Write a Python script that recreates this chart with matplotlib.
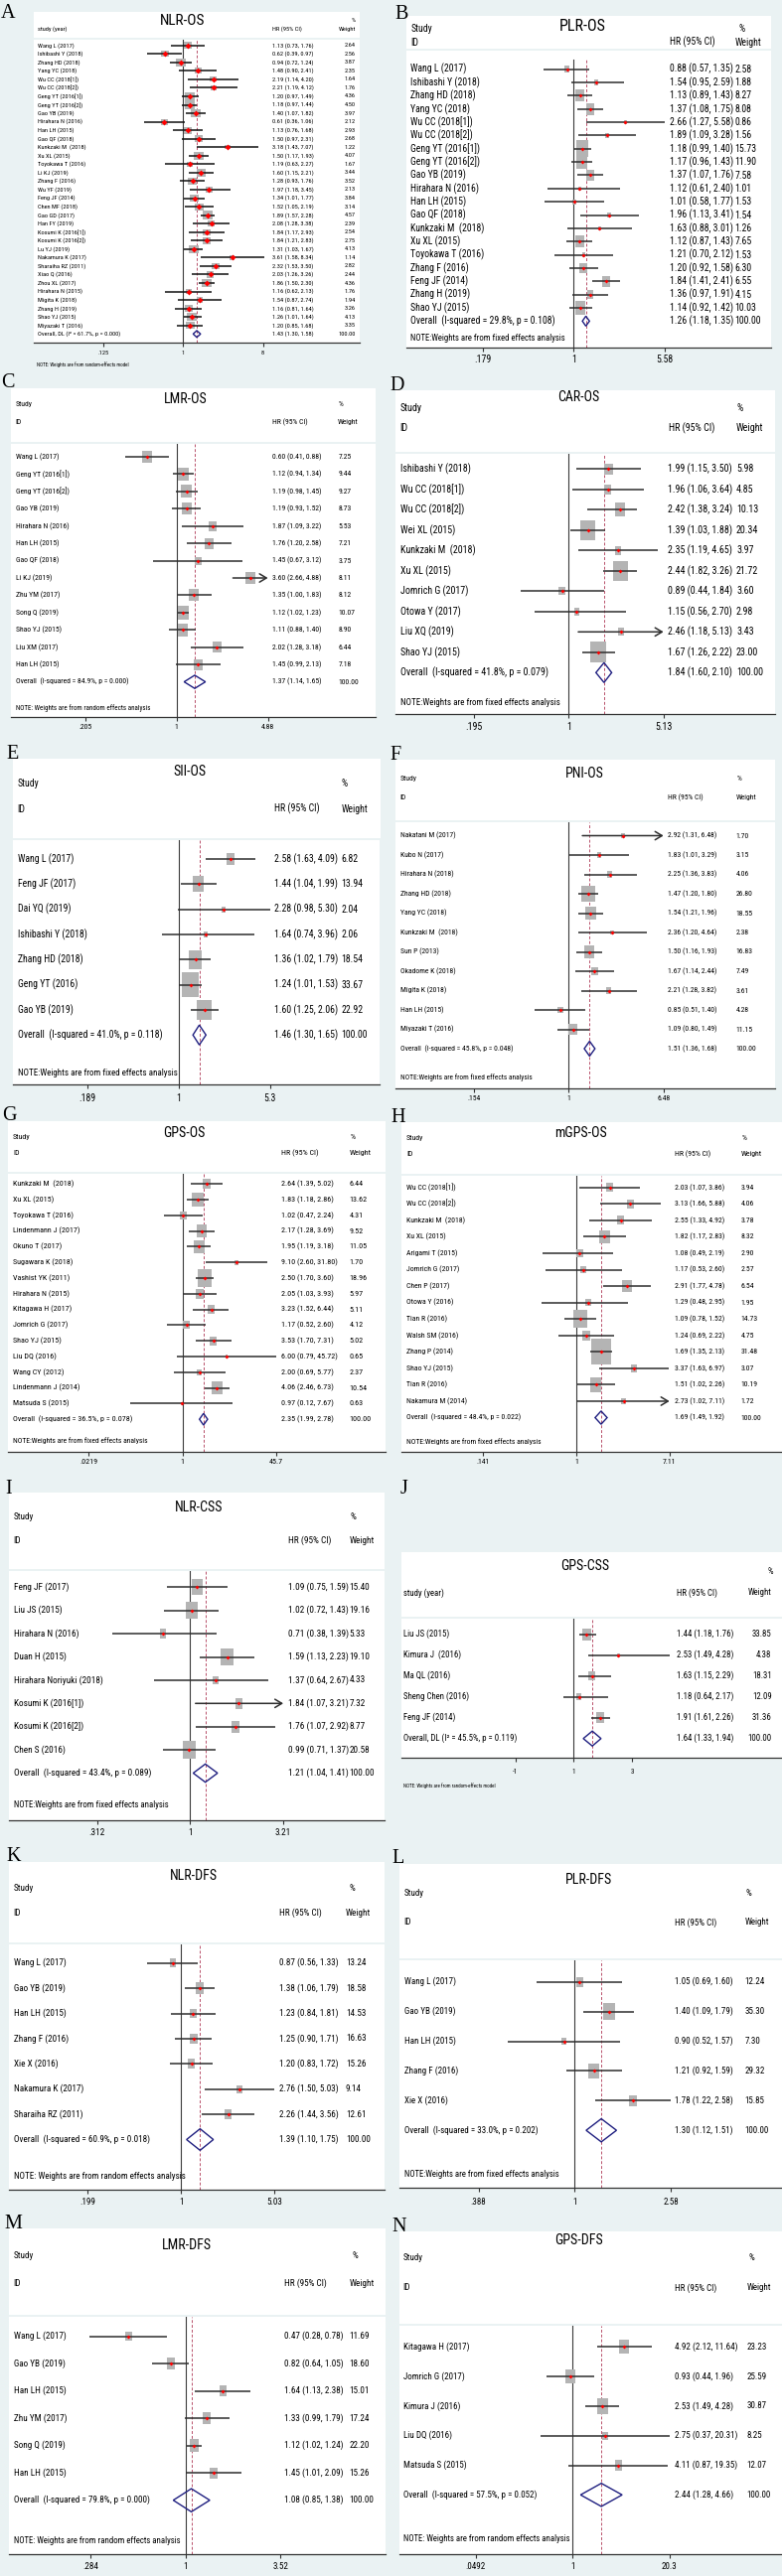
import numpy as np
import matplotlib
matplotlib.use('Agg')
import matplotlib.pyplot as plt
from matplotlib import font_manager as fm
from matplotlib.patches import Rectangle, Polygon
from matplotlib.path import Path
from matplotlib import transforms

W, H = 787, 2594
BG = '#eaf2f3'
SERIF = ['Liberation Serif', 'DejaVu Serif']

# the Stata text is a narrow sans; use a condensed family if one is installed,
# otherwise shrink regular Liberation Sans so the widths still match
NARROW = None
for fam in ['Liberation Sans Narrow', 'Roboto Condensed', 'Noto Sans Condensed', 'Open Sans Condensed',
            'DejaVu Sans Condensed']:
    try:
        fm.findfont(fm.FontProperties(family=fam), fallback_to_default=False)
        NARROW = fam
        break
    except ValueError:
        pass
if NARROW:
    SANS = [NARROW, 'DejaVu Sans']
    FSCALE = 1.0
else:
    SANS = ['Liberation Sans', 'DejaVu Sans']
    FSCALE = 0.8

NOTE_FIXED = 'NOTE:Weights are from fixed effects analysis'
NOTE_RANDOM = 'NOTE: Weights are from random effects analysis'
NOTE_MODEL = 'NOTE: Weights are from random-effects model'

# ---------------- data ----------------
# A  NLR-OS
a_names = ['Wang L (2017)', 'Ishibashi Y (2018)', 'Zhang HD (2018)', 'Yang YC (2018)', 'Wu CC (2018[1])',
           'Wu CC (2018[2])', 'Geng YT (2016[1])', 'Geng YT (2016[2])', 'Gao YB (2019)', 'Hirahara N (2016)',
           'Han LH (2015)', 'Gao QF (2018)', 'Kunkzaki M  (2018)', 'Xu XL (2015)', 'Toyokawa T (2016)',
           'Li KJ (2019)', 'Zhang F (2016)', 'Wu YF (2019)', 'Feng JF (2014)', 'Chen MF (2018)',
           'Gao GD (2017)', 'Han FY (2019)', 'Kosumi K (2016[1])', 'Kosumi K (2016[2])', 'Lu YJ (2019)',
           'Nakamura K (2017)', 'Sharaiha RZ (2011)', 'Xiao Q (2016)', 'Zhou XL (2017)', 'Hirahara N (2015)',
           'Migita K (2018)', 'Zhang H (2019)', 'Shao YJ (2015)', 'Miyazaki T (2016)']
a_hr = [1.13, 0.62, 0.94, 1.48, 2.19, 2.21, 1.20, 1.18, 1.40, 0.61, 1.13, 1.50, 3.18, 1.50, 1.19, 1.60, 1.28,
        1.97, 1.34, 1.52, 1.89, 2.08, 1.84, 1.84, 1.31, 3.61, 2.32, 2.03, 1.86, 1.16, 1.54, 1.16, 1.26, 1.20]
a_lo = [0.73, 0.39, 0.72, 0.90, 1.14, 1.19, 0.97, 0.97, 1.07, 0.36, 0.76, 0.97, 1.43, 1.17, 0.63, 1.15, 0.93,
        1.18, 1.01, 1.05, 1.57, 1.28, 1.17, 1.21, 1.03, 1.58, 1.53, 1.26, 1.50, 0.62, 0.87, 0.81, 1.01, 0.85]
a_hi = [1.76, 0.97, 1.24, 2.41, 4.20, 4.12, 1.49, 1.44, 1.82, 1.06, 1.68, 2.31, 7.07, 1.93, 2.27, 2.21, 1.76,
        3.45, 1.77, 2.19, 2.28, 3.38, 2.93, 2.83, 1.67, 8.34, 3.50, 3.26, 2.30, 2.13, 2.74, 1.64, 1.64, 1.68]
a_wt = [2.64, 2.56, 3.87, 2.35, 1.64, 1.76, 4.36, 4.50, 3.97, 2.12, 2.93, 2.68, 1.22, 4.07, 1.67, 3.44, 3.52,
        2.13, 3.84, 3.14, 4.57, 2.39, 2.54, 2.75, 4.13, 1.14, 2.82, 2.44, 4.36, 1.76, 1.94, 3.26, 4.13, 3.35]
a_overall = (1.43, 1.30, 1.58)
a_het = 'Overall, DL (I\u00b2 = 61.7%, p = 0.000)'
a_ticks, a_ticklabels = [0.125, 1, 8], ['.125', '1', '8']

# B  PLR-OS
b_names = ['Wang L (2017)', 'Ishibashi Y (2018)', 'Zhang HD (2018)', 'Yang YC (2018)', 'Wu CC (2018[1])',
           'Wu CC (2018[2])', 'Geng YT (2016[1])', 'Geng YT (2016[2])', 'Gao YB (2019)', 'Hirahara N (2016)',
           'Han LH (2015)', 'Gao QF (2018)', 'Kunkzaki M  (2018)', 'Xu XL (2015)', 'Toyokawa T (2016)',
           'Zhang F (2016)', 'Feng JF (2014)', 'Zhang H (2019)', 'Shao YJ (2015)']
b_hr = [0.88, 1.54, 1.13, 1.37, 2.66, 1.89, 1.18, 1.17, 1.37, 1.12, 1.01, 1.96, 1.63, 1.12, 1.21, 1.20, 1.84, 1.36, 1.14]
b_lo = [0.57, 0.95, 0.89, 1.08, 1.27, 1.09, 0.99, 0.96, 1.07, 0.61, 0.58, 1.13, 0.88, 0.87, 0.70, 0.92, 1.41, 0.97, 0.92]
b_hi = [1.35, 2.59, 1.43, 1.75, 5.58, 3.28, 1.40, 1.43, 1.76, 2.40, 1.77, 3.41, 3.01, 1.43, 2.12, 1.58, 2.41, 1.91, 1.42]
b_wt = [2.58, 1.88, 8.27, 8.08, 0.86, 1.56, 15.73, 11.90, 7.58, 1.01, 1.53, 1.54, 1.26, 7.65, 1.53, 6.30, 6.55, 4.15, 10.03]
b_overall = (1.26, 1.18, 1.35)
b_het = 'Overall  (I-squared = 29.8%, p = 0.108)'
b_ticks, b_ticklabels = [0.179, 1, 5.58], ['.179', '1', '5.58']

# C  LMR-OS
c_names = ['Wang L (2017)', 'Geng YT (2016[1])', 'Geng YT (2016[2])', 'Gao YB (2019)', 'Hirahara N (2016)',
           'Han LH (2015)', 'Gao QF (2018)', 'Li KJ (2019)', 'Zhu YM (2017)', 'Song Q (2019)', 'Shao YJ (2015)',
           'Liu XM (2017)', 'Han LH (2015)']
c_hr = [0.60, 1.12, 1.19, 1.19, 1.87, 1.76, 1.45, 3.60, 1.35, 1.12, 1.11, 2.02, 1.45]
c_lo = [0.41, 0.94, 0.98, 0.93, 1.09, 1.20, 0.67, 2.66, 1.00, 1.02, 0.88, 1.28, 0.99]
c_hi = [0.88, 1.34, 1.45, 1.52, 3.22, 2.58, 3.12, 4.88, 1.83, 1.23, 1.40, 3.18, 2.13]
c_wt = [7.25, 9.44, 9.27, 8.73, 5.53, 7.21, 3.75, 8.11, 8.12, 10.07, 8.90, 6.44, 7.18]
c_overall = (1.37, 1.14, 1.65)
c_het = 'Overall  (I-squared = 84.9%, p = 0.000)'
c_ticks, c_ticklabels = [0.205, 1, 4.88], ['.205', '1', '4.88']

# D  CAR-OS
d_names = ['Ishibashi Y (2018)', 'Wu CC (2018[1])', 'Wu CC (2018[2])', 'Wei XL (2015)', 'Kunkzaki M  (2018)',
           'Xu XL (2015)', 'Jomrich G (2017)', 'Otowa Y (2017)', 'Liu XQ (2019)', 'Shao YJ (2015)']
d_hr = [1.99, 1.96, 2.42, 1.39, 2.35, 2.44, 0.89, 1.15, 2.46, 1.67]
d_lo = [1.15, 1.06, 1.38, 1.03, 1.19, 1.82, 0.44, 0.56, 1.18, 1.26]
d_hi = [3.50, 3.64, 3.24, 1.88, 4.65, 3.26, 1.84, 2.70, 5.13, 2.22]
d_wt = [5.98, 4.85, 10.13, 20.34, 3.97, 21.72, 3.60, 2.98, 3.43, 23.00]
d_overall = (1.84, 1.60, 2.10)
d_het = 'Overall  (I-squared = 41.8%, p = 0.079)'
d_ticks, d_ticklabels = [0.195, 1, 5.13], ['.195', '1', '5.13']

# E  SII-OS
e_names = ['Wang L (2017)', 'Feng JF (2017)', 'Dai YQ (2019)', 'Ishibashi Y (2018)', 'Zhang HD (2018)',
           'Geng YT (2016)', 'Gao YB (2019)']
e_hr = [2.58, 1.44, 2.28, 1.64, 1.36, 1.24, 1.60]
e_lo = [1.63, 1.04, 0.98, 0.74, 1.02, 1.01, 1.25]
e_hi = [4.09, 1.99, 5.30, 3.96, 1.79, 1.53, 2.06]
e_wt = [6.82, 13.94, 2.04, 2.06, 18.54, 33.67, 22.92]
e_overall = (1.46, 1.30, 1.65)
e_het = 'Overall  (I-squared = 41.0%, p = 0.118)'
e_ticks, e_ticklabels = [0.189, 1, 5.3], ['.189', '1', '5.3']

# F  PNI-OS
f_names = ['Nakatani M (2017)', 'Kubo N (2017)', 'Hirahara N (2018)', 'Zhang HD (2018)', 'Yang YC (2018)',
           'Kunkzaki M  (2018)', 'Sun P (2013)', 'Okadome K (2018)', 'Migita K (2018)', 'Han LH (2015)',
           'Miyazaki T (2016)']
f_hr = [2.92, 1.83, 2.25, 1.47, 1.54, 2.36, 1.50, 1.67, 2.21, 0.85, 1.09]
f_lo = [1.31, 1.01, 1.36, 1.20, 1.21, 1.20, 1.16, 1.14, 1.28, 0.51, 0.80]
f_hi = [6.48, 3.29, 3.83, 1.80, 1.96, 4.64, 1.93, 2.44, 3.82, 1.40, 1.49]
f_wt = [1.70, 3.15, 4.06, 26.80, 18.55, 2.38, 16.83, 7.49, 3.61, 4.28, 11.15]
f_overall = (1.51, 1.36, 1.68)
f_het = 'Overall  (I-squared = 45.8%, p = 0.048)'
f_ticks, f_ticklabels = [0.154, 1, 6.48], ['.154', '1', '6.48']

# G  GPS-OS
g_names = ['Kunkzaki M  (2018)', 'Xu XL (2015)', 'Toyokawa T (2016)', 'Lindenmann J (2017)', 'Okuno T (2017)',
           'Sugawara K (2018)', 'Vashist YK (2011)', 'Hirahara N (2015)', 'Kitagawa H (2017)', 'Jomrich G (2017)',
           'Shao YJ (2015)', 'Liu DQ (2016)', 'Wang CY (2012)', 'Lindenmann J (2014)', 'Matsuda S (2015)']
g_hr = [2.64, 1.83, 1.02, 2.17, 1.95, 9.10, 2.50, 2.05, 3.23, 1.17, 3.53, 6.00, 2.00, 4.06, 0.97]
g_lo = [1.39, 1.18, 0.47, 1.28, 1.19, 2.60, 1.70, 1.03, 1.52, 0.52, 1.70, 0.79, 0.69, 2.46, 0.12]
g_hi = [5.02, 2.86, 2.24, 3.69, 3.18, 31.80, 3.60, 3.93, 6.44, 2.60, 7.31, 45.72, 5.77, 6.73, 7.67]
g_wt = [6.44, 13.62, 4.31, 9.52, 11.05, 1.70, 18.96, 5.97, 5.11, 4.12, 5.02, 0.65, 2.37, 10.54, 0.63]
g_overall = (2.35, 1.99, 2.78)
g_het = 'Overall  (I-squared = 36.5%, p = 0.078)'
g_ticks, g_ticklabels = [0.0219, 1, 45.7], ['.0219', '1', '45.7']

# H  mGPS-OS
h_names = ['Wu CC (2018[1])', 'Wu CC (2018[2])', 'Kunkzaki M  (2018)', 'Xu XL (2015)', 'Arigami T (2015)',
           'Jomrich G (2017)', 'Chen P (2017)', 'Otowa Y (2016)', 'Tian R (2016)', 'Walsh SM (2016)',
           'Zhang P (2014)', 'Shao YJ (2015)', 'Tian R (2016)', 'Nakamura M (2014)']
h_hr = [2.03, 3.13, 2.55, 1.82, 1.08, 1.17, 2.91, 1.29, 1.09, 1.24, 1.69, 3.37, 1.51, 2.73]
h_lo = [1.07, 1.66, 1.33, 1.17, 0.49, 0.53, 1.77, 0.48, 0.78, 0.69, 1.35, 1.63, 1.02, 1.02]
h_hi = [3.86, 5.88, 4.92, 2.83, 2.19, 2.60, 4.78, 2.95, 1.52, 2.22, 2.13, 6.97, 2.26, 7.11]
h_wt = [3.94, 4.06, 3.78, 8.32, 2.90, 2.57, 6.54, 1.95, 14.73, 4.75, 31.48, 3.07, 10.19, 1.72]
h_overall = (1.69, 1.49, 1.92)
h_het = 'Overall  (I-squared = 48.4%, p = 0.022)'
h_ticks, h_ticklabels = [0.141, 1, 7.11], ['.141', '1', '7.11']

# I  NLR-CSS
i_names = ['Feng JF (2017)', 'Liu JS (2015)', 'Hirahara N (2016)', 'Duan H (2015)', 'Hirahara Noriyuki (2018)',
           'Kosumi K (2016[1])', 'Kosumi K (2016[2])', 'Chen S (2016)']
i_hr = [1.09, 1.02, 0.71, 1.59, 1.37, 1.84, 1.76, 0.99]
i_lo = [0.75, 0.72, 0.38, 1.13, 0.64, 1.07, 1.07, 0.71]
i_hi = [1.59, 1.43, 1.39, 2.23, 2.67, 3.21, 2.92, 1.37]
i_wt = [15.40, 19.16, 5.33, 19.10, 4.33, 7.32, 8.77, 20.58]
i_overall = (1.21, 1.04, 1.41)
i_het = 'Overall  (I-squared = 43.4%, p = 0.089)'
i_ticks, i_ticklabels = [0.312, 1, 3.21], ['.312', '1', '3.21']

# J  GPS-CSS (linear axis)
j_names = ['Liu JS (2015)', 'Kimura J  (2016)', 'Ma QL (2016)', 'Sheng Chen (2016)', 'Feng JF (2014)']
j_hr = [1.44, 2.53, 1.63, 1.18, 1.91]
j_lo = [1.18, 1.49, 1.15, 0.64, 1.61]
j_hi = [1.76, 4.28, 2.29, 2.17, 2.26]
j_wt = [33.85, 4.38, 18.31, 12.09, 31.36]
j_overall = (1.64, 1.33, 1.94)
j_het = 'Overall, DL (I\u00b2 = 45.5%, p = 0.119)'
j_ticks, j_ticklabels = [-1, 1, 3], ['-1', '1', '3']

# K  NLR-DFS
k_names = ['Wang L (2017)', 'Gao YB (2019)', 'Han LH (2015)', 'Zhang F (2016)', 'Xie X (2016)',
           'Nakamura K (2017)', 'Sharaiha RZ (2011)']
k_hr = [0.87, 1.38, 1.23, 1.25, 1.20, 2.76, 2.26]
k_lo = [0.56, 1.06, 0.84, 0.90, 0.83, 1.50, 1.44]
k_hi = [1.33, 1.79, 1.81, 1.71, 1.72, 5.03, 3.56]
k_wt = [13.24, 18.58, 14.53, 16.63, 15.26, 9.14, 12.61]
k_overall = (1.39, 1.10, 1.75)
k_het = 'Overall  (I-squared = 60.9%, p = 0.018)'
k_ticks, k_ticklabels = [0.199, 1, 5.03], ['.199', '1', '5.03']

# L  PLR-DFS
l_names = ['Wang L (2017)', 'Gao YB (2019)', 'Han LH (2015)', 'Zhang F (2016)', 'Xie X (2016)']
l_hr = [1.05, 1.40, 0.90, 1.21, 1.78]
l_lo = [0.69, 1.09, 0.52, 0.92, 1.22]
l_hi = [1.60, 1.79, 1.57, 1.59, 2.58]
l_wt = [12.24, 35.30, 7.30, 29.32, 15.85]
l_overall = (1.30, 1.12, 1.51)
l_het = 'Overall  (I-squared = 33.0%, p = 0.202)'
l_ticks, l_ticklabels = [0.388, 1, 2.58], ['.388', '1', '2.58']

# M  LMR-DFS
m_names = ['Wang L (2017)', 'Gao YB (2019)', 'Han LH (2015)', 'Zhu YM (2017)', 'Song Q (2019)', 'Han LH (2015)']
m_hr = [0.47, 0.82, 1.64, 1.33, 1.12, 1.45]
m_lo = [0.28, 0.64, 1.13, 0.99, 1.02, 1.01]
m_hi = [0.78, 1.05, 2.38, 1.79, 1.24, 2.09]
m_wt = [11.69, 18.60, 15.01, 17.24, 22.20, 15.26]
m_overall = (1.08, 0.85, 1.38)
m_het = 'Overall  (I-squared = 79.8%, p = 0.000)'
m_ticks, m_ticklabels = [0.284, 1, 3.52], ['.284', '1', '3.52']

# N  GPS-DFS
n_names = ['Kitagawa H (2017)', 'Jomrich G (2017)', 'Kimura J (2016)', 'Liu DQ (2016)', 'Matsuda S (2015)']
n_hr = [4.92, 0.93, 2.53, 2.75, 4.11]
n_lo = [2.12, 0.44, 1.49, 0.37, 0.87]
n_hi = [11.64, 1.96, 4.28, 20.31, 19.35]
n_wt = [23.23, 25.59, 30.87, 8.25, 12.07]
n_overall = (2.44, 1.28, 4.66)
n_het = 'Overall  (I-squared = 57.5%, p = 0.052)'
n_ticks, n_ticklabels = [0.0492, 1, 20.3], ['.0492', '1', '20.3']

# ---------------- layout (pixel positions in the 787x2594 image) ----------------
layout = {
    'A': dict(box=(34.2, 362.4), top=12, sep=39.3, axis=345, r0=45.7, step=8.547, xone=184.2, xhi=264.6,
              letter=(1, 14), title=(184, 21), title_fs=11, fs=4.6, hdr='year', study=(38, 29.3),
              hrh=(274.1, 29.3), pct=(358, 20.7), wgt=(358, 29.3), hdr_align='right',
              name_x=38, hr_x=274.1, wt_x=358, wt_align='right', tick_y=356.3, note=(37, 367.3), note_fs=3.6,
              box_c=4.0, asp=1.2, dia=6.7, ms=3.0, ci='#111111', lw=1.1),
    'B': dict(box=(409.1, 775.6), top=16, sep=50, axis=350, r0=69.7, step=13.35, xone=577.3, xhi=668.7,
              letter=(397, 14.5), title=(586.3, 26.7), title_fs=11.5, fs=7, study=(413.1, 29.3), idy=42.7,
              hrh=(673.7, 42.7), pct=(743, 29.3), wgt=(739.5, 42.7),
              name_x=413.1, hr_x=673.7, wt_x=739.5, tick_y=362.7, note=(413.1, 340.7), note_fs=6.3,
              box_c=4.2, asp=0.72, dia=10, vstart=-0.75),
    'C': dict(box=(11, 377.5), top=390.7, sep=446, axis=721.6, r0=460, step=17.43, xone=177.7, xhi=269.6,
              letter=(1, 386), title=(187.2, 401.7), fs=5.5, study=(15.6, 407.3), idy=425,
              hrh=(274.1, 425), pct=(340.4, 407.3), wgt=(339.9, 425),
              name_x=15.6, hr_x=274.1, wt_x=340.4, tick_y=733.4, note=(15.6, 712.8), note_fs=5,
              box_c=4.2, asp=0.83, dia=13.3, arrows=[7]),
    'D': dict(box=(398.1, 779.6), top=392.7, sep=456, axis=719.2, r0=472.3, step=20.5, xone=572.3, xhi=667.7,
              letter=(392, 388.7), title=(582.3, 400), fs=7.2, study=(402.6, 410.7), idy=431,
              hrh=(672.7, 431), pct=(742, 410.7), wgt=(741, 431),
              name_x=402.6, hr_x=671.7, wt_x=741, tick_y=732.7, note=(402.6, 707.4), note_fs=6.5,
              box_c=4.4, asp=0.76, dia=20, arrows=[8]),
    'E': dict(box=(12.5, 382.5), top=763.8, sep=844.9, axis=1092.3, r0=865.1, step=25.3, xone=179.7, xhi=271.6,
              letter=(6, 759), title=(191.3, 776.6), fs=7, study=(17.5, 789), idy=814.5,
              hrh=(276.1, 814.5), pct=(343.4, 789), wgt=(343.4, 814.5),
              name_x=17.5, hr_x=276.1, wt_x=343.4, tick_y=1106, note=(17.5, 1080.7), note_fs=6.5,
              box_c=4.3, asp=0.7, dia=20),
    'F': dict(box=(398.1, 779.6), top=764.8, sep=827, axis=1096, r0=841.5, step=19.5, xone=572.3, xhi=667.7,
              letter=(392, 761), title=(588.3, 779.3), fs=5.5, study=(402.6, 784), idy=803,
              hrh=(671.7, 803), pct=(742, 784), wgt=(740.5, 803),
              name_x=402.6, hr_x=671.7, wt_x=740.5, tick_y=1107.3, note=(402.6, 1085), note_fs=5.3,
              box_c=3.2, asp=0.81, dia=15, arrows=[0]),
    'G': dict(box=(7.5, 388), top=1129.3, sep=1180.7, axis=1461.5, r0=1192.3, step=15.79, xone=183.7, xhi=278.1,
              letter=(2.5, 1123), title=(185.7, 1140.7), fs=5.8, study=(13, 1145.3), idy=1161.3,
              hrh=(282.6, 1161.3), pct=(352.4, 1145.3), wgt=(351.4, 1161.3),
              name_x=13, hr_x=282.6, wt_x=351.4, tick_y=1473.3, note=(13, 1450.7), note_fs=5.5,
              box_c=4.0, asp=0.81, dia=11.7),
    'H': dict(box=(404.1, 787), top=1130, sep=1182.7, axis=1461.5, r0=1195.7, step=16.56, xone=579.8, xhi=673.7,
              letter=(393, 1125.5), title=(584.8, 1140.7), fs=5.6, study=(409.1, 1146), idy=1162.3,
              hrh=(678.7, 1162.3), pct=(747, 1146), wgt=(745.5, 1162.3),
              name_x=409.1, hr_x=678.7, wt_x=745.5, tick_y=1473.3, note=(409.1, 1452), note_fs=5.5,
              box_c=4.6, asp=0.8, dia=13.3, arrows=[13]),
    'I': dict(box=(9, 386.5), top=1503.3, sep=1580.7, axis=1833.3, r0=1598.3, step=23.4, xone=191.3, xhi=285.1,
              letter=(5, 1499.5), title=(199.8, 1518.3), fs=6.7, study=(13.6, 1527.7), idy=1551,
              hrh=(289.7, 1551), pct=(352.9, 1527.7), wgt=(351.4, 1551),
              name_x=13.6, hr_x=289.7, wt_x=351.4, tick_y=1845.7, note=(13.6, 1818), note_fs=6.3,
              box_c=4.0, asp=0.7, dia=18.3, arrows=[5]),
    'J': dict(box=(404.1, 787), top=1562.7, sep=1629.3, axis=1770, r0=1645.7, step=21, xone=577.3, xhi=636,
              linear=True, letter=(403, 1499), title=(588.3, 1576.7), fs=6.3, hdr='year',
              study=(405.6, 1604), hrh=(681.2, 1604), pct=(778, 1582.7), wgt=(776.6, 1604), hdr_align='right',
              name_x=405.6, hr_x=681.2, wt_x=776.6, wt_align='right', tick_y=1785, tick_fs=5,
              note=(405.6, 1797.7), note_fs=3.6, box_c=2.0, asp=0.77, dia=15),
    'K': dict(box=(9, 386.5), top=1875, sep=1957.3, axis=2205, r0=1976.7, step=25.4, xone=182.2, xhi=276.1,
              letter=(6, 1870), title=(194.8, 1889.3), fs=6.6, study=(13.6, 1901.3), idy=1926.7,
              hrh=(281.1, 1926.7), pct=(351.4, 1901.3), wgt=(348, 1926.7),
              name_x=13.6, hr_x=281.1, wt_x=348, tick_y=2218.3, note=(13.6, 2192), note_fs=6.5,
              box_c=2.6, asp=0.7, dia=21.7),
    'L': dict(box=(401.6, 787), top=1876.7, sep=1972.7, axis=2203.3, r0=1995.7, step=29.9, xone=578.3, xhi=675.2,
              letter=(394, 1871.5), title=(592.4, 1893.3), fs=6.5, study=(406.6, 1906.7), idy=1936,
              hrh=(678.7, 1936), pct=(750.5, 1906.7), wgt=(749.5, 1936),
              name_x=406.6, hr_x=678.7, wt_x=749.5, tick_y=2218.3, note=(406.6, 2189), note_fs=6.3,
              box_c=2.9, asp=0.7, dia=23.3),
    'M': dict(box=(9, 388), top=2244.3, sep=2332.3, axis=2571.7, r0=2352.7, step=27.5, xone=186.7, xhi=282.1,
              letter=(4, 2240), title=(188.3, 2260.7), fs=6.6, study=(13.6, 2271.7), idy=2299.3,
              hrh=(286.1, 2299.3), pct=(354.4, 2271.7), wgt=(351.4, 2299.3),
              name_x=13.6, hr_x=286.1, wt_x=351.4, tick_y=2585, note=(13.6, 2558.3), note_fs=6.3,
              box_c=2.8, asp=0.68, dia=23.3),
    'N': dict(box=(401.6, 787), top=2246.7, sep=2340.7, axis=2571.7, r0=2363.3, step=29.8, xone=576.3, xhi=673.7,
              letter=(394, 2242.5), title=(582.3, 2255.7), fs=6.5, study=(405.6, 2274), idy=2304,
              hrh=(678.7, 2304), pct=(754, 2274), wgt=(751.5, 2304),
              name_x=405.6, hr_x=678.7, wt_x=751.5, tick_y=2585, note=(405.6, 2556.7), note_fs=6.3,
              box_c=2.9, asp=0.69, dia=23.3),
}

panels = [
    ('A', 'NLR-OS', a_names, a_hr, a_lo, a_hi, a_wt, a_overall, a_het, a_ticks, a_ticklabels, NOTE_MODEL),
    ('B', 'PLR-OS', b_names, b_hr, b_lo, b_hi, b_wt, b_overall, b_het, b_ticks, b_ticklabels, NOTE_FIXED),
    ('C', 'LMR-OS', c_names, c_hr, c_lo, c_hi, c_wt, c_overall, c_het, c_ticks, c_ticklabels, NOTE_RANDOM),
    ('D', 'CAR-OS', d_names, d_hr, d_lo, d_hi, d_wt, d_overall, d_het, d_ticks, d_ticklabels, NOTE_FIXED),
    ('E', 'SII-OS', e_names, e_hr, e_lo, e_hi, e_wt, e_overall, e_het, e_ticks, e_ticklabels, NOTE_FIXED),
    ('F', 'PNI-OS', f_names, f_hr, f_lo, f_hi, f_wt, f_overall, f_het, f_ticks, f_ticklabels, NOTE_FIXED),
    ('G', 'GPS-OS', g_names, g_hr, g_lo, g_hi, g_wt, g_overall, g_het, g_ticks, g_ticklabels, NOTE_FIXED),
    ('H', 'mGPS-OS', h_names, h_hr, h_lo, h_hi, h_wt, h_overall, h_het, h_ticks, h_ticklabels, NOTE_FIXED),
    ('I', 'NLR-CSS', i_names, i_hr, i_lo, i_hi, i_wt, i_overall, i_het, i_ticks, i_ticklabels, NOTE_FIXED),
    ('J', 'GPS-CSS', j_names, j_hr, j_lo, j_hi, j_wt, j_overall, j_het, j_ticks, j_ticklabels, NOTE_MODEL),
    ('K', 'NLR-DFS', k_names, k_hr, k_lo, k_hi, k_wt, k_overall, k_het, k_ticks, k_ticklabels, NOTE_RANDOM),
    ('L', 'PLR-DFS', l_names, l_hr, l_lo, l_hi, l_wt, l_overall, l_het, l_ticks, l_ticklabels, NOTE_FIXED),
    ('M', 'LMR-DFS', m_names, m_hr, m_lo, m_hi, m_wt, m_overall, m_het, m_ticks, m_ticklabels, NOTE_RANDOM),
    ('N', 'GPS-DFS', n_names, n_hr, n_lo, n_hi, n_wt, n_overall, n_het, n_ticks, n_ticklabels, NOTE_RANDOM),
]

fig = plt.figure(figsize=(W / 100, H / 100), dpi=100, facecolor=BG)


def ftext(x, y, s, **kw):
    # text placed in image pixel coordinates
    kw.setdefault('family', SANS)
    kw.setdefault('va', 'center')
    fig.text(x / W, 1 - y / H, s, **kw)


def draw_panel(letter, title, names, hr, lo, hi, wt, overall, het, ticks, ticklabels, note, L):
    x0, x1 = L['box']
    top, sep, base = L['top'], L['sep'], L['axis']
    r0, step = L['r0'], L['step']
    fs = L['fs'] * FSCALE
    n = len(names)
    rows = np.arange(n)

    # white header strip + white plot body
    fig.add_artist(Rectangle((x0 / W, 1 - (sep - 1) / H), (x1 - x0) / W, (sep - 1 - top) / H,
                             transform=fig.transFigure, facecolor='white', edgecolor='none', zorder=0))
    ax = fig.add_axes([x0 / W, 1 - base / H, (x1 - x0) / W, (base - sep - 1) / H])
    ax.set_facecolor('white')

    if L.get('linear'):
        k = (L['xhi'] - L['xone']) / (ticks[-1] - 1)
        ax.set_xlim(1 + (x0 - L['xone']) / k, 1 + (x1 - L['xone']) / k)
    else:
        ax.set_xscale('log')
        k = (L['xhi'] - L['xone']) / np.log(ticks[-1])
        ax.set_xlim(np.exp((x0 - L['xone']) / k), np.exp((x1 - L['xone']) / k))
    ybot = (base - r0) / step
    ytop = (sep + 1 - r0) / step
    ax.set_ylim(ybot, ytop)

    # reference lines
    vtop = L.get('vstart', ytop)
    ax.plot([1, 1], [ybot, vtop], color='#3a3a3a', lw=0.8, zorder=1)
    ax.plot([overall[0]] * 2, [ybot, vtop], color='#b8506a', lw=0.7, dashes=(3, 2), zorder=1)

    # weight boxes (area ~ weight)
    asp = L['asp']
    rect = Path([(-asp, -1), (asp, -1), (asp, 1), (-asp, 1), (-asp, -1)], closed=True)
    heights = L['box_c'] * np.sqrt(wt) * 0.72
    sizes = heights * max(1.0, asp)
    ax.scatter(hr, rows, marker=rect, s=sizes ** 2, color='#b4b4b4', linewidths=0, zorder=2)

    # confidence intervals
    ci, lw = L.get('ci', '#2e2e2e'), L.get('lw', 1.1)
    arrows = L.get('arrows', [])
    for i in rows:
        if i in arrows:
            ax.annotate('', xy=(hi[i], i), xytext=(lo[i], i), zorder=3,
                        arrowprops=dict(arrowstyle='->,head_length=0.5,head_width=0.3', color=ci, lw=lw,
                                        shrinkA=0, shrinkB=0))
        else:
            ax.plot([lo[i], hi[i]], [i, i], color=ci, lw=lw, solid_capstyle='butt', zorder=3)
    ax.plot(hr, rows, 'D', color='red', ms=L.get('ms', 2.0), mew=0, zorder=4)

    # pooled diamond
    dh = L['dia'] / step / 2
    ax.add_patch(Polygon([(overall[1], n), (overall[0], n - dh), (overall[2], n), (overall[0], n + dh)],
                         closed=True, fill=False, edgecolor='#1f1f80', lw=1.0, zorder=4))

    # row text
    tr = transforms.blended_transform_factory(ax.transAxes, ax.transData)

    def fx(x):
        return (x - x0) / (x1 - x0)

    wa = L.get('wt_align', 'left')
    for i in rows:
        ax.text(fx(L['name_x']), i, names[i], transform=tr, fontsize=fs, va='center', family=SANS)
        ax.text(fx(L['hr_x']), i, f'{hr[i]:.2f} ({lo[i]:.2f}, {hi[i]:.2f})', transform=tr, fontsize=fs,
                va='center', family=SANS)
        ax.text(fx(L['wt_x']), i, f'{wt[i]:.2f}', transform=tr, fontsize=fs, va='center', ha=wa, family=SANS)
    ax.text(fx(L['name_x']), n, het, transform=tr, fontsize=fs, va='center', family=SANS)
    ax.text(fx(L['hr_x']), n, f'{overall[0]:.2f} ({overall[1]:.2f}, {overall[2]:.2f})', transform=tr,
            fontsize=fs, va='center', family=SANS)
    ax.text(fx(L['wt_x']), n, '100.00', transform=tr, fontsize=fs, va='center', ha=wa, family=SANS)

    # axis
    ax.set_xticks(ticks)
    ax.set_xticklabels(ticklabels)
    ax.minorticks_off()
    ax.set_yticks([])
    for s in ['top', 'left', 'right']:
        ax.spines[s].set_visible(False)
    ax.spines['bottom'].set_color('#333333')
    ax.spines['bottom'].set_linewidth(0.9)
    tfs = L.get('tick_fs', L['fs']) * FSCALE
    pad_px = (L['tick_y'] - base) - 4 - 0.55 * tfs / 0.72
    ax.tick_params(axis='x', direction='out', length=2.9, width=0.8, color='#333333', labelsize=tfs,
                   pad=max(pad_px, 0) * 0.72)
    for lab in ax.get_xticklabels():
        lab.set_family(SANS)

    # header
    ftext(L['letter'][0], L['letter'][1], letter, family=SERIF, fontsize=14.5)
    ftext(L['title'][0], L['title'][1], title, fontsize=L.get('title_fs', 10) * FSCALE ** 0.5, ha='center')
    ha = L.get('hdr_align', 'left')
    if L.get('hdr') == 'year':
        ftext(L['study'][0], L['study'][1], 'study (year)', fontsize=fs)
    else:
        ftext(L['study'][0], L['study'][1], 'Study', fontsize=fs)
        ftext(L['study'][0], L['idy'], 'ID', fontsize=fs)
    ftext(L['hrh'][0], L['hrh'][1], 'HR (95% CI)', fontsize=fs)
    ftext(L['pct'][0], L['pct'][1], '%', fontsize=fs, ha=ha)
    ftext(L['wgt'][0], L['wgt'][1], 'Weight', fontsize=fs, ha=ha)
    ftext(L['note'][0], L['note'][1], note, fontsize=L['note_fs'] * FSCALE)


for p in panels:
    draw_panel(*p, layout[p[0]])

fig.savefig('out.png', dpi=100, facecolor=BG)
